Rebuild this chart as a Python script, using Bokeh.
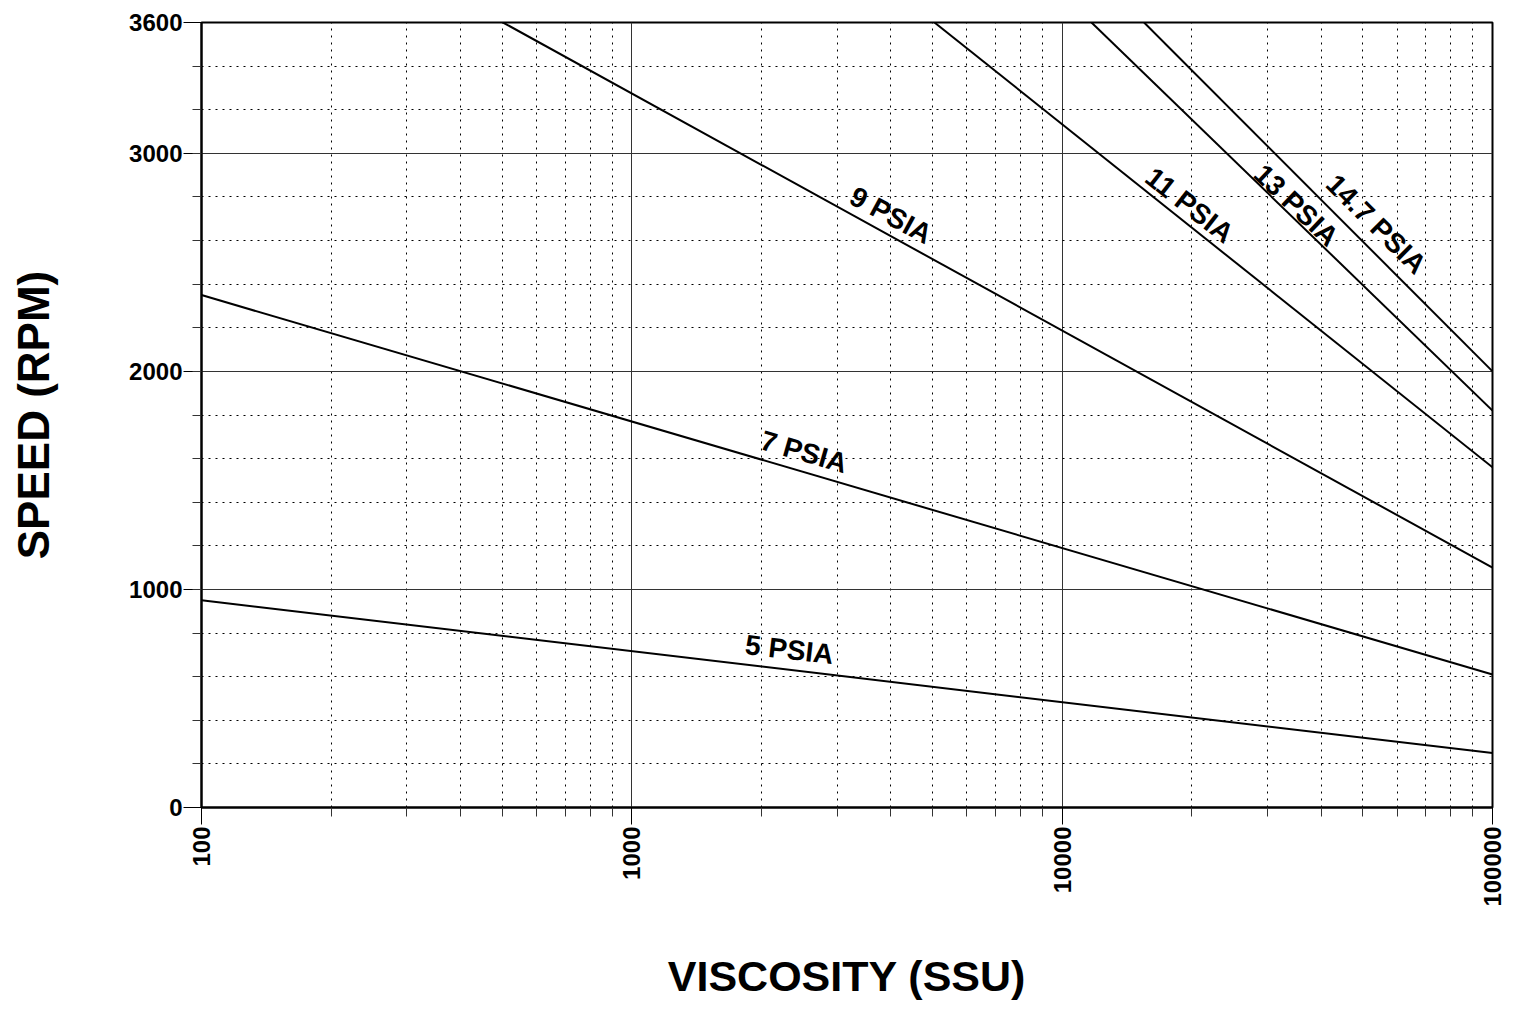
import math
from bokeh.plotting import figure
from bokeh.models import FixedTicker, ColumnDataSource
from bokeh.core.properties import value
from bokeh.embed import file_html
from bokeh.resources import INLINE

# ---- data ----
visc_5 = [100, 100000]
speed_5 = [950, 250]
visc_7 = [100, 100000]
speed_7 = [2350, 610]
visc_9 = [502, 100000]
speed_9 = [3600, 1100]
visc_11 = [5050, 100000]
speed_11 = [3600, 1560]
visc_13 = [11700, 100000]
speed_13 = [3600, 1820]
visc_147 = [15500, 100000]
speed_147 = [3600, 2000]

label_text = ["5 PSIA", "7 PSIA", "9 PSIA", "11 PSIA", "13 PSIA", "14.7 PSIA"]
label_x = [2323, 2512, 4000, 19770, 34990, 53700]
label_y = [724, 1631, 2716, 2762, 2762, 2675]
label_angle_deg = [-6.6, -16.1, -28.5, -38.2, -43.6, -44.8]

x_major = [100, 1000, 10000, 100000]
x_minor = [m * d for d in (100, 1000, 10000) for m in range(2, 10)]
y_major = [0, 1000, 2000, 3000, 3600]
y_minor = list(range(200, 3600, 200))

x_title = "VISCOSITY (SSU)"
y_title = "SPEED (RPM)"

FONT = "Liberation Sans"

p = figure(width=1506, height=1002, x_axis_type="log",
           x_range=(100, 100000), y_range=(0, 3600),
           output_backend="svg", toolbar_location=None,
           min_border_left=201, min_border_top=22, min_border_right=14,
           min_border_bottom=194)
p.background_fill_color = "white"
p.border_fill_color = "white"
p.outline_line_color = "black"
p.outline_line_width = 2

p.xaxis.ticker = FixedTicker(ticks=x_major, minor_ticks=x_minor)
p.yaxis.ticker = FixedTicker(ticks=y_major, minor_ticks=y_minor)
p.xaxis.major_label_overrides = {v: str(v) for v in x_major}
p.xaxis.major_label_orientation = math.pi / 2

for ax in (p.xaxis[0], p.yaxis[0]):
    ax.axis_line_color = "black"
    ax.axis_line_width = 2
    ax.major_tick_line_color = "black"
    ax.minor_tick_line_color = "#333333"
    ax.major_tick_in = 0
    ax.minor_tick_in = 0
    ax.major_label_text_font = FONT
    ax.major_label_text_font_style = "bold"
    ax.major_label_text_font_size = "24px"
    ax.major_label_text_color = "black"
    ax.axis_label_text_font = FONT
    ax.axis_label_text_font_style = "bold"
    ax.axis_label_text_color = "black"

p.xaxis.major_tick_out = 17
p.xaxis.minor_tick_out = 9
p.xaxis.major_label_standoff = 2
p.yaxis.major_tick_out = 18
p.yaxis.minor_tick_out = 9
p.yaxis.major_label_standoff = 1

p.xaxis.axis_label = x_title
p.xaxis.axis_label_text_font_size = "43px"
p.xaxis.axis_label_standoff = 42
p.yaxis.axis_label = y_title
p.yaxis.axis_label_text_font_size = "44px"
p.yaxis.axis_label_standoff = 68

for g in (p.xgrid[0], p.ygrid[0]):
    g.grid_line_color = "#333333"
    g.grid_line_width = 1
    g.minor_grid_line_color = "black"
    g.minor_grid_line_width = 1
    g.minor_grid_line_dash = "2 5"

series = [(visc_5, speed_5), (visc_7, speed_7), (visc_9, speed_9),
          (visc_11, speed_11), (visc_13, speed_13), (visc_147, speed_147)]
for xs, ys in series:
    p.line(xs, ys, line_color="black", line_width=2)

src = ColumnDataSource(dict(x=label_x, y=label_y, t=label_text,
                            a=[math.radians(v) for v in label_angle_deg]))
p.text(x="x", y="y", text="t", angle="a", source=src,
       text_font=value(FONT), text_font_style="bold", text_font_size="28px",
       text_align="center", text_baseline="middle", text_color="black")

open("out.html", "w").write(file_html(p, INLINE))
